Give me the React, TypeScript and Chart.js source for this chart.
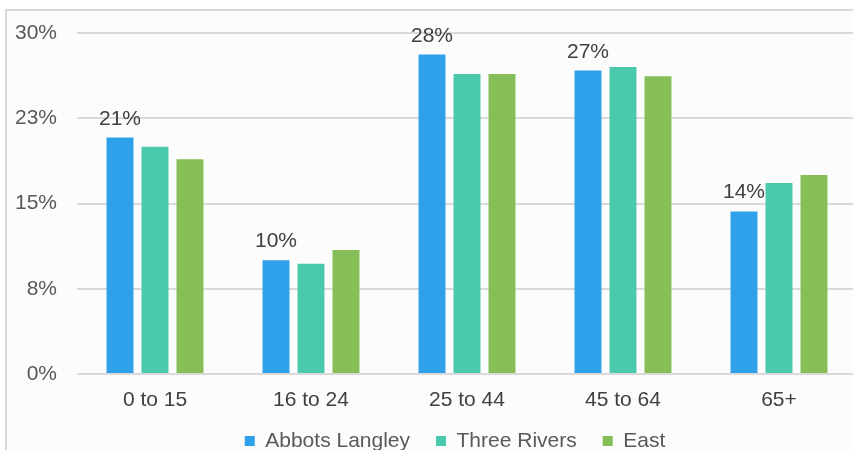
import React, { useEffect, useRef } from "react";
import { Chart, registerables } from "chart.js";

Chart.register(...registerables);

// Age groups along the x axis
const ageGroups = ["0 to 15", "16 to 24", "25 to 44", "45 to 64", "65+"];

// Share of population in each age group (%)
const abbotsLangley = [20.8, 10.0, 28.1, 26.7, 14.3];
const threeRivers = [20.0, 9.7, 26.4, 27.0, 16.8];
const east = [18.9, 10.9, 26.4, 26.2, 17.5];

const seriesNames = ["Abbots Langley", "Three Rivers", "East"];
const seriesColors = ["#2EA1EA", "#4AC9AD", "#86BF58"];

// Value axis: 0 to 30 in quarter steps, labels rounded to whole percents
const yMin = 0;
const yMax = 30;
const yStep = 7.5;

const FONT = "'Liberation Sans', Arial, sans-serif";
const FONT_SIZE = 21;
const LEGEND_PADDING = 26;

// Percent labels above the Abbots Langley bars
const valueLabels = {
  id: "valueLabels",
  afterDatasetsDraw(chart: any) {
    const meta = chart.getDatasetMeta(0);
    const values = chart.data.datasets[0].data as number[];
    const ctx = chart.ctx as CanvasRenderingContext2D;
    ctx.save();
    ctx.font = `${FONT_SIZE}px ${FONT}`;
    ctx.fillStyle = "#404040";
    ctx.textAlign = "center";
    ctx.textBaseline = "alphabetic";
    meta.data.forEach((bar: any, i: number) => {
      ctx.fillText(`${Math.round(values[i])}%`, bar.x, bar.y - 13);
    });
    ctx.restore();
  },
};

// Nudge the legend row: slightly right of centre, a fixed distance below the plot
const legendPlacement = {
  id: "legendPlacement",
  afterLayout(chart: any) {
    const legend = chart.legend;
    if (!legend) return;
    const dx = 23;
    legend.left += dx;
    legend.right += dx;
    const top = chart.chartArea.bottom + 67 - LEGEND_PADDING - FONT_SIZE / 2;
    const h = legend.height;
    legend.top = top;
    legend.bottom = top + h;
  },
};

export default function App() {
  const canvasRef = useRef<HTMLCanvasElement | null>(null);

  useEffect(() => {
    if (!canvasRef.current) return;
    const seriesData = [abbotsLangley, threeRivers, east];
    const chart = new Chart(canvasRef.current, {
      type: "bar",
      data: {
        labels: ageGroups,
        datasets: seriesNames.map((name, i) => ({
          label: name,
          data: seriesData[i],
          backgroundColor: seriesColors[i],
          borderWidth: 0,
          categoryPercentage: 0.673,
          barPercentage: 0.77,
        })),
      },
      options: {
        responsive: true,
        maintainAspectRatio: false,
        animation: false,
        layout: { padding: { top: 23, right: 0, bottom: 0, left: 0 } },
        plugins: {
          legend: {
            position: "bottom",
            labels: {
              boxWidth: 10,
              boxHeight: 10,
              padding: LEGEND_PADDING,
              color: "#595959",
              font: { family: FONT, size: FONT_SIZE },
            },
          },
          tooltip: { enabled: false },
        },
        scales: {
          x: {
            afterFit(scale: any) {
              scale.height = 32;
            },
            grid: { display: false, drawTicks: false },
            border: { display: false },
            ticks: {
              color: "#404040",
              padding: 14,
              font: { family: FONT, size: FONT_SIZE },
            },
          },
          y: {
            min: yMin,
            max: yMax,
            afterFit(scale: any) {
              scale.width = 70;
            },
            grid: {
              color: "#d9d9d9",
              lineWidth: 2,
              drawTicks: true,
              tickLength: 20,
              tickColor: "rgba(0,0,0,0)",
            },
            border: { display: false },
            ticks: {
              stepSize: yStep,
              padding: 0,
              color: "#595959",
              font: { family: FONT, size: FONT_SIZE },
              callback: (v: any) => `${Math.round(Number(v))}%`,
            },
          },
        },
      },
      plugins: [valueLabels, legendPlacement],
    });
    return () => chart.destroy();
  }, []);

  return (
    <div
      style={{
        position: "fixed",
        left: 0,
        top: 0,
        width: 853,
        height: 450,
        overflow: "hidden",
        background: "#ffffff",
      }}
    >
      <div
        style={{
          position: "absolute",
          left: 5,
          top: 9,
          width: 900,
          height: 500,
          borderLeft: "2px solid #d9d9d9",
          borderTop: "2px solid #d9d9d9",
          background: "#fcfcfc",
        }}
      />
      <div style={{ position: "absolute", left: 7, top: 10, width: 850, height: 453 }}>
        <canvas ref={canvasRef} />
      </div>
    </div>
  );
}
